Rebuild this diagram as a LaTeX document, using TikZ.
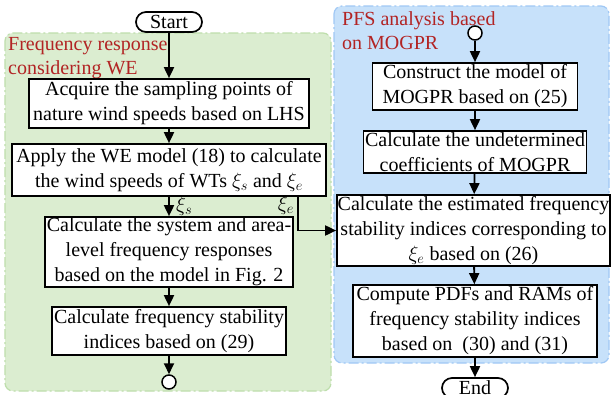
\documentclass[tikz,border=0pt]{standalone}
\usepackage{fontspec}
\setmainfont{Liberation Serif}
\usetikzlibrary{arrows.meta,calc}
\definecolor{greenfill}{RGB}{219,237,208}
\definecolor{greenline}{RGB}{190,222,172}
\definecolor{bluefill}{RGB}{199,225,250}
\definecolor{blueline}{RGB}{160,200,245}
\definecolor{lbl}{RGB}{178,36,36}
\begin{document}
\begin{tikzpicture}[x=1pt,y=-1pt,
  txt/.style={font=\fontsize{20}{25}\selectfont},
  box/.style={txt,draw=black,line width=1.7pt,fill=white,align=center,inner sep=0pt},
  term/.style={txt,draw=black,line width=1.7pt,fill=white,rounded corners=10pt,inner sep=0pt,minimum width=66pt,minimum height=20pt},
  dot/.style={circle,draw=black,line width=1.5pt,fill=white,minimum size=14pt,inner sep=0pt},
  arr/.style={line width=1.8pt,-{Triangle[length=11pt,width=10pt]}},
  region/.style={rounded corners=8pt,line width=1.2pt,dash pattern=on 10pt off 3pt on 2pt off 3pt},
  lab/.style={txt,text=lbl,anchor=base west,inner sep=0pt}]
\clip (0,0) rectangle (611,394);
\useasboundingbox (0,0) rectangle (611,394);
\fill[white] (0,0) rectangle (611,394);
% regions
\draw[region,fill=greenfill,draw=greenline] (5,33) rectangle (331,391);
\draw[region,fill=bluefill,draw=blueline] (334,6) rectangle (609,363);
\node[lab] (gl1) at (8,50) {Frequency response};
\node[lab] (gl2) at (8,74) {considering WE};
\node[lab] (bl1) at (342,25) {PFS analysis based};
\node[lab] (bl2) at (342,49) {on MOGPR};
% left flow
\node[term] (start) at (169,22) {Start};
\node[box,minimum width=280pt,minimum height=49pt] (b1) at (169,103.5) {Acquire the sampling points of\\nature wind speeds based on LHS};
\node[box,minimum width=314pt,minimum height=52pt] (b2) at (169,170) {Apply the WE model (18) to calculate\\the wind speeds of WTs $\xi_s$ and $\xi_e$};
\node[box,minimum width=248pt,minimum height=70pt] (b3) at (169,252) {Calculate the system and area-\\level frequency responses\\based on the model in Fig. 2};
\node[box,minimum width=234pt,minimum height=48pt] (b4) at (169,331) {Calculate frequency stability\\indices based on (29)};
\node[dot] (c1) at (169,382) {};
% right flow
\node[dot] (c2) at (475,33) {};
\node[box,minimum width=205pt,minimum height=47pt] (p1) at (475,86.5) {Construct the model of\\MOGPR based on (25)};
\node[box,minimum width=223pt,minimum height=42pt] (p2) at (475,152) {Calculate the undetermined\\coefficients of MOGPR};
\node[box,minimum width=273pt,minimum height=71pt] (p3) at (473.5,230.5) {Calculate the estimated frequency\\stability indices corresponding to\\$\xi_e$ based on (26)};
\node[box,minimum width=244pt,minimum height=72pt] (p4) at (475,321) {Compute PDFs and RAMs of\\frequency stability indices\\based on~ (30) and (31)};
\node[term] (end) at (475,388) {End};
% connectors
\draw[arr] (start) -- (b1);
\draw[arr] (b1) -- (b2);
\draw[arr] (b2) -- (b3);
\draw[arr] (b3) -- (b4);
\draw[arr] (b4) -- (c1);
\coordinate (xe) at (298,0);
\draw[arr] (b2.south -| xe) |- (p3.west);
\node[txt,anchor=west,inner sep=0pt] (xs) at (176,206) {$\xi_s$};
\node[txt,anchor=east,inner sep=0pt] (xel) at (294,205) {$\xi_e$};
\draw[arr] (c2) -- (p1);
\draw[arr] (p1) -- (p2);
\draw[arr] (p2) -- (p3);
\draw[arr] (p3) -- (p4);
\draw[arr] (p4) -- (end);
\end{tikzpicture}
\end{document}
